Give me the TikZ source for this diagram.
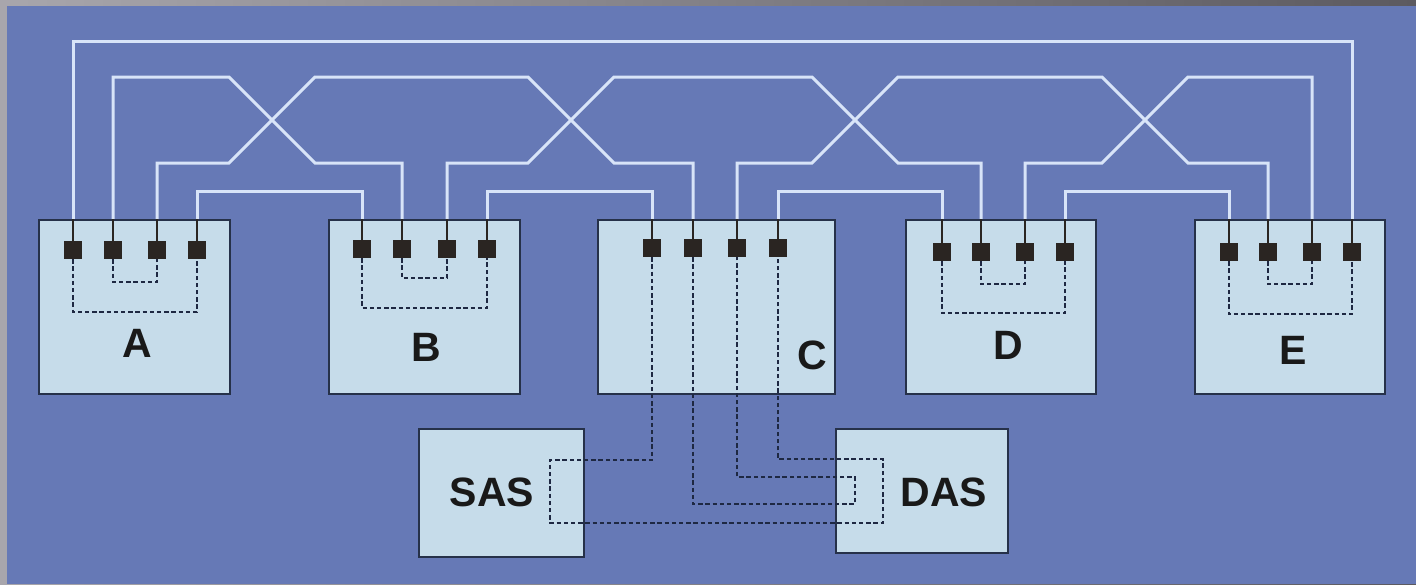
\documentclass[tikz,border=0pt]{standalone}
\usepackage{fontspec}
\setmainfont{Liberation Sans}
\usetikzlibrary{backgrounds}
\definecolor{panelfill}{HTML}{6679B6}
\definecolor{framel}{HTML}{A8A6AC}
\definecolor{framer}{HTML}{5C5A60}
\definecolor{boxfill}{HTML}{C6DCEA}
\definecolor{boxline}{HTML}{263149}
\definecolor{portfill}{HTML}{2A2522}
\definecolor{wireline}{HTML}{D8E4F8}
\definecolor{jumpline}{HTML}{1E2842}
\tikzset{
  box/.style    = {rectangle, draw=boxline, fill=boxfill, line width=1.1pt, inner sep=0pt},
  port/.style   = {rectangle, draw=portfill, fill=portfill, minimum size=8.8pt, inner sep=0pt},
  lbl/.style    = {font=\fontsize{20.5}{20.5}\selectfont\bfseries, text=black!90, inner sep=0pt},
  wire/.style   = {line width=1.5pt, draw=wireline},
  stub/.style   = {line width=0.9pt, draw=portfill},
  jumper/.style = {line width=0.9pt, draw=jumpline, dash pattern=on 2.2pt off 1.4pt},
}
\begin{document}
\begin{tikzpicture}[x=0.5pt, y=-0.5pt]
        \useasboundingbox (0,0) rectangle (1416,584);
        % stations
        \node[box, minimum width=95.5pt,  minimum height=87pt] (a)   at (134.5,307) {};
        \node[box, minimum width=95.5pt,  minimum height=87pt] (b)   at (424.5,307) {};
        \node[box, minimum width=118.5pt, minimum height=87pt] (c)   at (716.5,307) {};
        \node[box, minimum width=95pt,    minimum height=87pt] (d)   at (1001,307)  {};
        \node[box, minimum width=95pt,    minimum height=87pt] (e)   at (1290,307)  {};
        \node[box, minimum width=82.5pt,  minimum height=64pt] (sas) at (501.5,493) {};
        \node[box, minimum width=86pt,    minimum height=62pt] (das) at (922,491)   {};
        % ports
        \foreach \n/\x in {1/73, 2/113, 3/157, 4/197}     {\node[port] (a\n) at (\x,250) {};}
        \foreach \n/\x in {1/362, 2/402, 3/447, 4/487}    {\node[port] (b\n) at (\x,249) {};}
        \foreach \n/\x in {1/652, 2/693, 3/737, 4/778}    {\node[port] (c\n) at (\x,248) {};}
        \foreach \n/\x in {1/942, 2/981, 3/1025, 4/1065}  {\node[port] (d\n) at (\x,252) {};}
        \foreach \n/\x in {1/1229, 2/1268, 3/1312, 4/1352}{\node[port] (e\n) at (\x,252) {};}
        \foreach \b in {a,b,c,d,e}{\foreach \n in {1,...,4}{\draw[stub] (\b\n) -- (\b\n |- \b.north);}}
        % labels
        \node[lbl] (la)   at (137,343)  {A};
        \node[lbl] (lb)   at (426,347)  {B};
        \node[lbl] (lc)   at (812,355)  {C};
        \node[lbl] (ld)   at (1008,345) {D};
        \node[lbl] (le)   at (1293,350) {E};
        \node[lbl] (lsas) at (492,492)  {SAS};
        \node[lbl] (ldas) at (944,492)  {DAS};
        % wrap inside the stations
        \foreach \b/\yi/\yo in {a/282/312, b/278/308, d/284/313, e/284/314}{
          \draw[jumper] (\b2) -- (\b2 |- 0,\yi) -| (\b3);
          \draw[jumper] (\b1) -- (\b1 |- 0,\yo) -| (\b4);
        }
        \draw[jumper] (c1) |- (550,460) -- (550,523) -- (883,523) -- (883,459) -| (c4);
        \draw[jumper] (c2) |- (855,504) -- (855,477) -| (c3);
        \begin{scope}[on background layer]
          \fill[left color=framel, right color=framer] (0,0) rectangle (1416,584);
          \fill[panelfill] (7,6) rectangle (1416,584);
          % trunk ring
          \draw[wire] (a1) -- (a1 |- 0,41) -| (e4);
          \draw[wire] (a2) |- (229,77) -- (315,163) -| (b2);
          \draw[wire] (a3) |- (229,163) -- (315,77) -- (528,77) -- (614,163) -| (c2);
          \draw[wire] (b3) |- (528,163) -- (614,77) -- (812,77) -- (898,163) -| (d2);
          \draw[wire] (c3) |- (812,163) -- (898,77) -- (1102,77) -- (1188,163) -| (e2);
          \draw[wire] (d3) |- (1102,163) -- (1188,77) -| (e3);
          \foreach \x/\y in {a4/b1, b4/c1, c4/d1, d4/e1}{\draw[wire] (\x) -- (\x |- 0,191) -| (\y);}
        \end{scope}
    \end{tikzpicture}
\end{document}
